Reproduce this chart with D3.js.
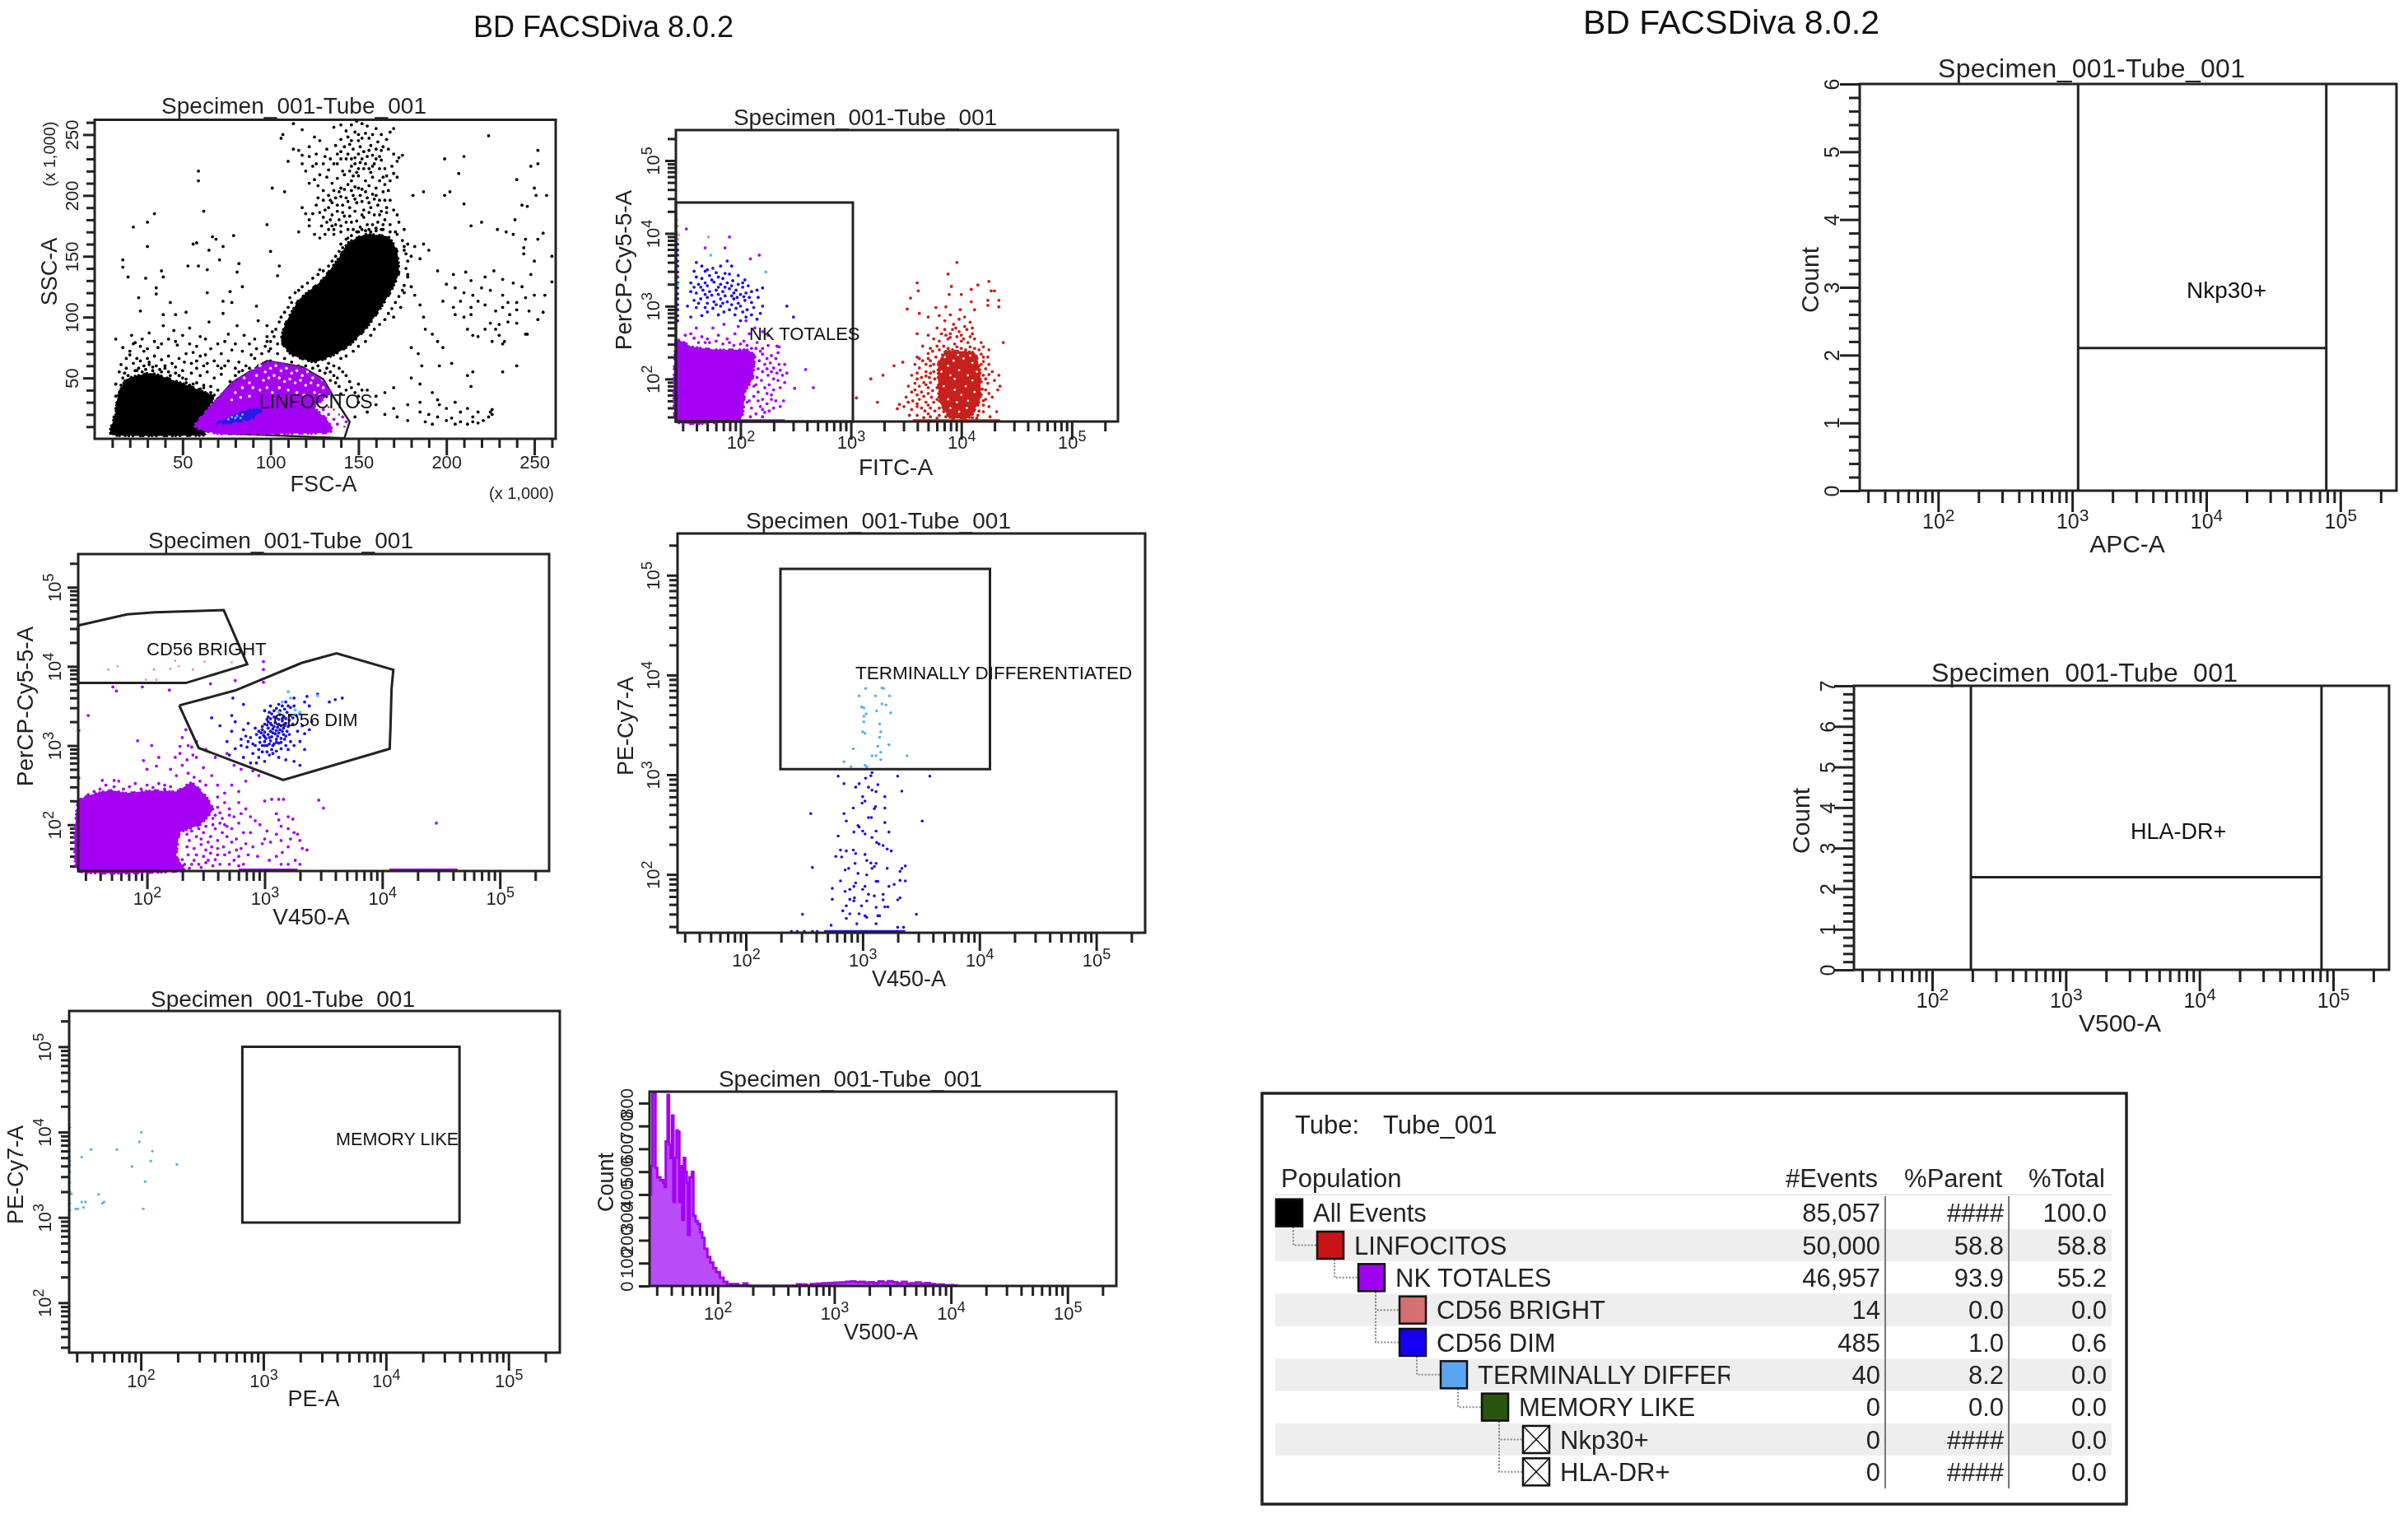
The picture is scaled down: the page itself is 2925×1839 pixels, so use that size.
<!DOCTYPE html>
<html>
<head>
<meta charset="utf-8">
<script src="https://cdn.jsdelivr.net/npm/d3@7"></script>
<style>
body { margin: 0; background: #fff; }
svg { display: block; filter: blur(0.5px); }
text { font-family: "Liberation Sans", Arial, sans-serif; fill: #222; }
</style>
</head>
<body>
<div id="visualization"></div>
<script>
// axis ticks
const logTicks = [30,40,50,60,70,80,90,100,200,300,400,500,600,700,800,900,1000,2000,3000,4000,5000,6000,7000,8000,9000,10000,20000,30000,40000,50000,60000,70000,80000,90000,100000,200000];
const decades = [100,1000,10000,100000];
const linTicks = d3.range(10,261,10);
const linLabels = [50,100,150,200,250];

// plot 1: FSC-A / SSC-A, both in thousands
const p1LeftBlob = [[10,3],[12,20],[13,34],[18,49],[32,54],[47,47],[63,38],[68,33],[57,11],[63,3]];
const p1MainBlob = [[116,114],[129,130],[139,149],[144,161],[154,168],[167,166],[172,154],[173,136],[168,120],[161,104],[154,90],[145,77],[136,69],[125,63],[112,69],[106,80],[108,93]];
const p1Scatter = [[59,220],[59,212],[62,187],[34,185],[30,178],[22,174],[101,206],[108,203],[98,176],[67,166],[69,164],[79,167],[58,161],[56,160],[65,155],[73,158],[100,154],[30,158],[16,147],[16,141],[19,133],[29,132],[38,138],[39,133],[53,142],[59,142],[64,139],[71,147],[82,144],[81,137],[105,142],[104,134],[25,116],[26,105],[35,124],[35,119],[43,112],[39,102],[46,102],[52,104],[64,120],[73,113],[77,121],[78,112],[84,125],[92,109],[93,97],[98,93],[12,82],[21,85],[23,79],[27,82],[31,87],[39,93],[45,89],[54,91],[56,71],[63,82],[65,96],[73,103],[81,93],[85,85],[91,82],[74,80],[20,69],[28,72],[36,75],[47,77],[63,69],[78,73],[89,69],[98,80],[15,61],[22,62],[31,63],[40,60],[51,63],[58,58],[70,60],[82,63],[91,66],
[14,55],[18,58],[24,56],[28,60],[33,59],[37,57],[42,55],[46,59],[50,56],[55,54],[60,52],[64,55],[68,50],[72,53],[77,47],[80,52],[84,56],[88,58],[93,60],[96,62],[100,64],[12,45],[15,40],[52,49],[56,45],[62,44],[66,43],[70,40],[75,38],
[106,247],[107,250],[113,259],[118,254],[125,248],[128,245],[136,256],[140,258],[143,253],[146,258],[149,261],[152,259],[155,257],[160,255],[163,250],[168,252],[170,255],[113,238],[116,237],[118,233],[122,240],[126,234],[131,232],[137,241],[140,236],[145,242],[147,238],[150,245],[151,240],[153,236],[157,241],[161,244],[163,237],[167,238],[170,234],[173,231],[172,228],[175,233],[110,228],[118,226],[120,220],[124,224],[128,217],[133,221],[138,226],[141,220],[143,230],[146,224],[148,231],[149,219],[151,227],[153,222],[155,232],[157,219],[159,226],[163,229],[165,222],[169,224],[122,210],[125,213],[127,208],[130,204],[132,215],[135,210],[138,214],[140,206],[142,217],[144,209],[146,212],[148,207],[150,216],[152,205],[154,212],[156,208],[158,215],[160,206],[162,212],[165,209],[167,204],[127,198],[130,196],[133,200],[135,194],[137,198],[139,203],[141,192],[143,198],[145,190],[147,200],[149,194],[151,200],[153,188],[155,198],[157,190],[159,197],[161,192],[163,187],[165,196],[118,190],[120,185],[128,186],[130,182],[132,178],[133,190],[135,184],[137,176],[139,180],[141,186],[143,178],[145,183],[147,172],[149,179],[151,174],[153,182],[155,176],[157,170],[159,184],[161,178],[163,172],[165,180],[168,176],[171,170],[173,178],[176,172],[116,170],[122,175],[125,168],[128,165],[133,172],[136,168],[140,170],[144,165],[176,155],[178,160],[180,150],[182,158],[185,148],[187,160],[190,155],[178,135],[180,125],[182,118],[185,110],[187,100],[176,120],[174,108],[170,100],
[199,230],[210,232],[224,249],[252,237],[248,224],[252,226],[207,218],[199,200],[202,203],[210,193],[181,200],[187,203],[240,213],[250,206],[251,200],[257,200],[243,192],[246,191],[220,178],[214,175],[239,180],[229,172],[234,170],[238,168],[245,164],[252,164],[255,169],[244,157],[244,152],[250,146],[260,129],[260,150],[195,138],[204,135],[211,137],[214,130],[222,133],[227,138],[232,131],[238,128],[243,125],[248,135],[200,127],[205,124],[210,120],[215,118],[220,124],[225,122],[232,118],[235,112],[240,112],[245,116],[250,118],[256,118],[198,113],[204,108],[208,113],[214,108],[218,113],[222,110],[228,105],[232,108],[236,102],[240,106],[247,105],[205,102],[210,100],[214,102],[225,95],[230,94],[235,96],[240,95],[252,98],[255,104],[212,90],[215,85],[218,84],[222,90],[228,90],[230,85],[245,86],[246,86],[188,90],[192,86],[195,80],[198,75],[180,75],[184,70],[186,60],[196,60],[203,62],[226,80],[232,78],[233,80],[240,60],[232,55],[215,55],[212,52],[214,43],
[150,45],[155,40],[160,35],[165,38],[170,42],[180,50],[185,45],[192,38],[195,32],[185,30],[178,28],[170,25],[165,20],[160,28],[155,22],[150,30],[148,18],[172,18],[178,15],[185,22],[190,20],[195,18],[200,15],[203,17],[205,12],[208,14],[212,12],[215,14],[218,13],[221,15],[224,18],[225,22],[226,20],[226,24],[196,28],[200,25],[205,30],[208,22],[212,25],[215,18],[218,22],[188,14],[192,12]];
const p1Grain = [[104,78],[102,84],[103,90],[105,96],[106,100],[108,104],[110,108],[112,112],[111,116],[114,120],[116,122],[118,125],[121,128],[124,132],[127,135],[130,138],[128,139],[133,142],[135,146],[137,150],[139,154],[141,157],[140,160],[143,164],[146,167],[149,170],[152,172],[156,172],[160,173],[164,172],[168,170],[172,168],[175,163],[176,158],[177,152],[178,146],[177,140],[178,133],[176,126],[175,122],[173,117],[171,112],[169,107],[167,103],[165,98],[162,94],[159,90],[157,85],[154,80],[150,76],[147,72],[143,68],[140,66],
[100,74],[104,70],[108,66],[112,63],[116,60],[120,60],[124,58],[128,56],[132,58],[134,55],[136,52],[138,50],[137,46],[139,43],[134,48],[131,54],[127,60],[133,62],[136,60],[139,58],[141,55],[143,52],[145,47],[146,42],[148,38],[143,40],[140,37],[150,35],[152,40],[99,72],[97,76],[100,80],[98,84],[101,88],
[11,10],[11,18],[12,25],[13,30],[12,35],[14,38],[15,44],[16,50],[17,54],[19,52],[21,50],[23,56],[25,58],[27,55],[29,57],[31,61],[33,56],[35,60],[38,55],[40,58],[43,52],[46,54],[48,52],[50,50],[52,46],[54,44],[56,42],[58,46],[60,41],[62,42],[64,37],[66,38],[68,36],[70,33],[72,35],[74,36],[72,30],[65,32],
[20,72],[24,66],[26,64],[30,66],[34,68],[38,65],[42,68],[44,62],[48,66],[52,70],[55,62],[58,64],[60,68],[62,60],[64,62],[68,64],[72,58],[74,60],[76,64],[80,58],[82,55],[86,60],[90,55],[94,56],[22,78],[26,76],[30,74],[34,80],[38,78],[42,82],[46,80],[50,85],[54,78],[58,76],[60,84],[66,74],[70,78],[72,70],[76,86],[80,78],[84,72],[88,78],[92,74],[95,70],[16,75],[18,66],
[131,188],[134,180],[136,172],[138,187],[140,175],[142,183],[144,172],[146,178],[148,187],[150,170],[152,184],[154,171],[156,186],[158,176],[160,171],[162,184],[164,176],[166,186],[134,196],[136,204],[138,192],[140,199],[142,205],[144,195],[146,204],[148,197],[150,206],[152,195],[154,203],[156,194],[158,201],[160,200],[162,196],[164,203],[166,190],[168,196],[170,188],[172,184],[126,192],[124,185],[122,180],[129,175],[131,168],[135,175],[140,246],[142,240],[144,248],[146,245],[148,252],[150,250],[152,247],[154,251],[156,247],[158,250],[160,238],[162,232],[164,240],[166,246],[144,234],[146,230],[148,226],[150,234],[152,230],[154,226],[156,237],[158,233],[160,230],[162,222],[164,215],[166,216],[168,212],[170,218],[172,215],[140,230],[138,234],[136,226],[134,230],[132,238],[130,226],[126,226],[122,232],[156,222],[158,224],[150,222],[147,216],[145,220]];
const p1Gate = [[57,11],[78,46],[98,64],[118,59],[130,49],[136,34],[145,14],[142,0.5],[72,4.6]];
const p1Purple = [[57,11],[78,45],[98,63],[118,58],[129,48],[134,38],[125,26],[132,16],[133,5],[72,4]];
const p1Blue = [[70,13],[78,18],[88,24],[95,24],[90,17],[78,13]];
const p1Cyan = [[78,18],[81,19],[84,20],[80,17],[76,16],[83,17]];
const p1White = [[90,58],[94,60],[97,55],[100,58],[103,60],[106,56],[109,58],[112,54],[115,56],[118,52],[121,55],[124,50],[92,52],[96,48],[99,50],[102,52],[105,50],[108,47],[111,49],[114,46],[117,48],[120,44],[123,46],[127,44],[130,42],[85,50],[88,46],[84,42],[90,42],[94,40],[98,42],[101,38],[105,42],[110,40],[115,38],[119,36],[125,38],[128,36],[80,38],[83,34],[78,32],[88,35]];
const p1PurpleDots = [[125,22],[128,18],[130,24],[133,20],[136,16],[131,13],[134,10],[138,12],[141,18],[143,14],[128,10],[126,14]];
const p1RedDots = [[139,20],[136,24],[133,26],[142,10]];

// the log plots below hold log10 of the channel value
// plot 2: FITC-A / PerCP-Cy5-5-A
const p2Gate = [[1.415,1.415],[1.415,4.424],[3.018,4.424],[3.018,1.415]];
const p2PurpleBlock = [[1.415,1.415],[1.415,2.516],[1.562,2.44],[1.794,2.4],[2.06,2.4],[2.127,2.308],[2.11,2.007],[2.04,1.818],[1.994,1.441]];
const p2Purple = [[2.13,2.3],[2.17,2.25],[2.2,2.34],[2.24,2.28],[2.27,2.22],[2.3,2.15],[2.33,2.08],[2.36,2.12],[2.38,2.05],[2.3,2],[2.25,2.05],[2.2,2.1],[2.15,2.02],[2.19,1.98],[2.26,1.92],[2.3,1.85],[2.22,1.88],[2.16,1.82],[2.12,1.76],[2.2,1.72],[2.24,1.66],[2.18,1.62],[2.1,1.6],[2.14,1.52],[2.2,1.48],[2.26,1.56],[2.09,1.48],[2.06,1.68],[2.14,1.92],[2.1,2.12],[2.12,2.2],[2.36,1.62],[2.35,2.2],[1.7,2.55],[1.8,2.6],[1.9,2.5],[1.95,2.62],[2.03,2.52],[2.08,2.62],[2.15,2.5],[2.2,2.42],[2.25,2.46],[1.6,2.7],[1.65,2.58],[1.75,2.7],[1.85,2.75],[1.98,2.72],[2.05,2.8],[2.13,2.7],[2.2,2.65],[2.25,2.6],[2.33,2.45],[1.55,2.62],[1.72,2.5],[1.88,2.55],[2.59,2.13],[2.49,1.87],[2.66,1.88],[2.39,1.7],[2.35,2.44],[1.51,4.06],[1.9,3.95],[1.86,3.8],[1.68,3.8],[2.17,3.7],[2.09,3.65],
[2.14,2.42],[2.18,2.38],[2.22,2.2],[2.28,2.32],[2.32,2.28],[2.34,1.98],[2.28,1.78],[2.24,1.8],[2.2,1.58],[2.28,1.72],[2.32,1.7],[2.3,1.6],[2.22,1.54],[2.16,1.7],[2.08,1.7],[2.12,1.9],[2.24,2.14],[2.28,2.1],[2.16,2.14],[2.36,1.88],[2.4,1.95],[2.42,2.08],[2.4,2.2],[2.34,2.36],[1.5,2.6],[1.58,2.56],[1.62,2.5],[1.68,2.5],[1.78,2.52],[1.84,2.48],[1.94,2.46],[2,2.48],[2.06,2.46],[2.1,2.42]];
const p2Blue = [[1.6,3.6],[1.65,3.55],[1.7,3.5],[1.75,3.52],[1.82,3.55],[1.88,3.62],[1.92,3.55],[1.86,3.45],[1.8,3.4],[1.72,3.42],[1.65,3.38],[1.6,3.4],[1.55,3.32],[1.62,3.3],[1.7,3.28],[1.76,3.33],[1.82,3.3],[1.88,3.32],[1.93,3.35],[1.98,3.42],[2.04,3.36],[2.07,3.28],[2.02,3.26],[1.96,3.22],[1.55,3.2],[1.6,3.18],[1.66,3.22],[1.72,3.2],[1.78,3.22],[1.84,3.2],[1.9,3.24],[1.94,3.18],[2,3.16],[2.05,3.18],[2.1,3.2],[2.15,3.22],[2.2,3.25],[1.58,3.08],[1.64,3.1],[1.7,3.12],[1.76,3.06],[1.82,3.1],[1.88,3.06],[1.94,3.1],[1.98,3.04],[2.04,3.08],[2.1,3.05],[2.16,3.12],[1.52,3],[1.6,2.98],[1.68,2.98],[1.75,2.97],[1.82,3],[1.9,2.95],[1.96,2.97],[2.06,2.95],[2.12,2.98],[2.2,3],[1.55,2.85],[1.65,2.87],[1.8,2.88],[1.95,2.88],[2.05,2.85],[2.1,2.88],[2.15,2.82],[2.18,2.9],[2,2.8],[2.42,3],[2.48,2.85],[1.43,3.85],[1.43,3.77],[1.43,3.7],[1.43,3.62],[1.43,3.55],[1.43,3.47],[1.43,3.4],[1.43,3.32],[1.43,3.25],[1.43,3.17],[1.43,3.1],[1.43,3.02],[1.43,2.95],[1.43,2.87],[1.43,2.8],
[1.58,3.48],[1.68,3.48],[1.78,3.46],[1.84,3.38],[1.74,3.36],[1.68,3.32],[1.9,3.44],[1.58,3.26],[1.64,3.26],[1.8,3.26],[1.86,3.26],[1.92,3.28],[1.98,3.3],[2.02,3.32],[1.68,3.16],[1.74,3.15],[1.8,3.16],[1.86,3.14],[1.92,3.14],[1.97,3.12],[2.03,3.13],[2.08,3.12],[1.62,3.04],[1.7,3.04],[1.78,3.02],[1.84,3.04],[1.92,3.02],[2,3],[1.7,2.92],[1.85,2.92],[2.02,2.92]];
const p2Cyan = [[1.73,3.7],[2.23,3.47],[1.43,3.3]];
const p2Pink = [[1.71,3.95],[1.42,4],[1.43,4.1],[1.42,4.18],[1.44,3.98],[1.43,3.92]];
const p2RedBlock = [[3.79,2.2],[3.86,2.38],[4.12,2.36],[4.17,2.1],[4.17,1.72],[4.07,1.47],[3.9,1.47],[3.8,1.7]];
const p2Red = [[3.96,3.6],[3.88,3.44],[3.6,3.32],[4.25,3.34],[3.61,3.21],[3.91,3.27],[4.15,3.29],[4.09,3.23],[4.27,3.21],[4.3,3.21],[3.54,3.11],[3.89,3.16],[4,3.16],[4.24,3.08],[4.34,3.08],[4.09,3.06],[3.51,2.96],[3.77,2.98],[3.86,2.99],[3.99,2.95],[4.12,2.95],[4.24,3.01],[4.34,2.99],[3.62,2.9],[3.7,2.85],[3.8,2.87],[3.85,2.8],[3.9,2.88],[3.93,2.75],[3.98,2.82],[4.03,2.85],[4.08,2.78],[3.78,2.7],[3.85,2.68],[3.9,2.62],[3.95,2.7],[4,2.6],[4.05,2.68],[4.1,2.62],[3.6,2.62],[3.7,2.6],[3.75,2.55],[3.8,2.52],[3.88,2.55],[3.94,2.48],[4,2.52],[4.06,2.5],[4.12,2.55],[4.18,2.5],[4.25,2.4],[4.38,2.5],[3.65,2.45],[3.72,2.42],[3.78,2.45],[3.6,2.3],[3.65,2.25],[3.7,2.28],[3.62,2.15],[3.68,2.1],[3.72,2.18],[3.55,2.05],[3.6,2],[3.66,1.95],[3.71,2.02],[3.52,1.9],[3.58,1.85],[3.64,1.82],[3.7,1.88],[3.5,1.75],[3.56,1.7],[3.62,1.72],[3.68,1.68],[3.73,1.75],[3.48,1.62],[3.55,1.58],[3.6,1.62],[3.67,1.56],[3.72,1.6],[3.53,1.5],[3.6,1.5],[3.66,1.47],[3.72,1.48],[4.2,2.3],[4.25,2.2],[4.28,2.1],[4.22,2],[4.3,1.98],[4.35,1.9],[4.22,1.85],[4.28,1.75],[4.2,1.7],[4.25,1.62],[4.2,1.55],[4.15,1.5],[4.1,1.47],[4.32,1.55],[4.34,2.05],[4.33,1.85],[3.18,2],[3.29,2.05],[3.24,1.68],[3.05,1.74],[3.39,2.18],[3.47,2.23],[3.44,1.65],[3.52,1.68],[3.42,1.59],
[3.8,2.4],[3.84,2.45],[3.88,2.42],[3.92,2.4],[3.96,2.44],[4,2.42],[4.04,2.4],[4.08,2.44],[4.12,2.42],[4.16,2.4],[4.2,2.44],[3.74,2.38],[3.7,2.35],[3.86,2.6],[3.9,2.57],[3.96,2.58],[4.02,2.55],[4.08,2.58],[3.82,2.62],[3.92,2.68],[3.98,2.65],[4.03,2.72],[4.1,2.7],[3.58,2.2],[3.62,2.28],[3.68,2.2],[3.72,2.25],[3.75,2.2],[3.77,2.3],[3.6,2.08],[3.64,2.02],[3.68,2.04],[3.72,2.08],[3.75,2.1],[3.58,1.94],[3.62,1.9],[3.68,1.92],[3.72,1.95],[3.76,2],[3.55,1.82],[3.6,1.78],[3.66,1.76],[3.7,1.8],[3.74,1.84],[3.78,1.88],[3.52,1.68],[3.6,1.66],[3.64,1.6],[3.7,1.64],[3.75,1.68],[3.78,1.72],[3.8,1.6],[3.76,1.56],[3.8,1.5],[3.84,1.55],[3.86,1.48],[3.7,1.52],[3.78,1.46],[4.18,2.34],[4.2,2.24],[4.24,2.3],[4.22,2.14],[4.18,2.2],[4.2,2.05],[4.25,2.06],[4.18,1.96],[4.24,1.94],[4.19,1.86],[4.25,1.8],[4.18,1.78],[4.22,1.72],[4.15,1.64],[4.2,1.64],[4.12,1.58],[4.16,1.56],[4.1,1.52],[4.06,1.5],[4.02,1.47],[4.14,1.46],[4.26,1.48],[3.88,1.5],[3.92,1.46],[3.94,1.55],[3.88,1.6],[4.04,1.44]];
const p2RedWhite = [[3.85,2.3],[3.93,2.25],[4.02,2.28],[4.1,2.22],[3.82,2.1],[3.9,2.05],[3.98,2.12],[4.06,2.05],[4.14,2.1],[3.84,1.9],[3.94,1.85],[4.04,1.9],[4.12,1.82],[3.88,1.72],[3.96,1.68],[4.06,1.7],[3.98,1.55],[4.05,1.6],[3.88,2.18],[3.97,2.33],[4.08,2.32],[3.94,2],[4.1,1.98],[4,1.78],[3.9,1.6]];

// plot 3: V450-A / PerCP-Cy5-5-A
const p3Bright = [[1.415,4.517],[1.83,4.656],[2.065,4.684],[2.455,4.701],[2.652,4.711],[2.852,4.026],[2.33,3.79],[1.415,3.79],[1.415,4.517]];
const p3Dim = [[2.274,3.506],[2.752,3.697],[3.314,4.043],[3.611,4.164],[4.094,3.957],[4.079,3.714],[4.07,3.229],[4.063,2.959],[3.158,2.565],[2.439,2.97],[2.274,3.506]];
const p3PurpleBlock = [[1.415,1.415],[1.415,2.295],[1.69,2.433],[1.815,2.398],[2.065,2.433],[2.25,2.42],[2.38,2.53],[2.5,2.36],[2.56,2.19],[2.45,2],[2.28,1.9],[2.25,1.6],[2.3,1.415]];
const p3Purple = [[2.32,1.5],[2.36,1.45],[2.4,1.55],[2.44,1.5],[2.48,1.6],[2.52,1.55],[2.56,1.48],[2.35,1.62],[2.4,1.7],[2.46,1.75],[2.5,1.68],[2.55,1.72],[2.6,1.62],[2.62,1.5],[2.36,1.8],[2.42,1.85],[2.48,1.9],[2.54,1.85],[2.6,1.8],[2.65,1.72],[2.58,1.95],[2.64,1.9],[2.68,1.85],[2.62,2.02],[2.56,2.08],[2.66,2],[2.7,2.12],[2.62,2.15],[2.66,2.28],[2.7,2.2],[2.74,2.1],[2.72,1.95],[2.76,1.82],[2.7,1.65],[2.74,1.55],[2.8,1.7],[2.82,1.5],[2.86,1.62],[2.88,1.9],[2.92,2.05],[2.84,2.2],[2.78,2.28],[2.2,2.7],[2.25,2.62],[2.3,2.75],[2.35,2.65],[2.4,2.6],[2.45,2.55],[2.5,2.5],[2.28,2.9],[2.24,2.85],[2.34,2.82],[2.42,2.85],[2.48,2.72],[2.55,2.62],[2.6,2.5],[2.66,2.4],[2.72,2.5],[2.78,2.42],[2.84,2.55],[2.35,3],[2.42,3.05],[2.5,2.95],[2.58,2.85],[2.68,2.9],[2.74,2.75],[2.8,2.7],[2.9,2.68],[2.95,2.62],[2.04,3],[2.1,2.85],[2,2.7],[2.15,2.5],[2.3,3.1],[2.38,2.98],[3,2.3],[3.06,2.32],[3.12,2.32],[3.16,2.32],[3.1,2.14],[3.12,2.06],[3.2,2.1],[3.24,2.07],[3.14,1.98],[3.2,1.95],[3.25,1.9],[3.28,1.88],[3.3,1.8],[3.22,1.82],[3.14,1.8],[3.05,1.78],[2.98,1.76],[3,1.82],[3.32,1.7],[3.36,1.68],[3.2,1.72],[3.15,1.65],[3.1,1.6],[3.14,1.5],[3.2,1.5],[3.26,1.55],[3.3,1.5],[3.04,1.55],[2.94,1.6],[3.02,1.92],[2.96,2],[3.1,1.88],[3.46,2.31],[3.5,2.21],[4.46,2.02],[1.5,3.38],[1.42,3.19],[1.92,3.06],[1.71,3.74],[1.74,3.69],[2.19,3.7],[1.96,3.74],[2.54,3.78],[2.75,3.82],[2.99,4.06],[2.99,3.96],[2.99,3.8],[2.33,3.2],[2.28,2.99],[2.39,2.88],[1.97,2.81],[2.08,2.74],[1.42,2.59],
[2.3,1.56],[2.34,1.72],[2.38,1.5],[2.42,1.62],[2.46,1.46],[2.5,1.52],[2.54,1.64],[2.58,1.56],[2.6,1.7],[2.38,1.92],[2.44,1.95],[2.5,1.98],[2.56,2],[2.34,1.88],[2.52,1.78],[2.46,1.82],[2.58,2.12],[2.6,2.22],[2.6,2.35],[2.64,2.08],[2.68,1.98],[2.72,1.78],[2.66,1.62],[2.7,1.5],[2.76,1.68],[2.78,1.6],[2.78,1.48],[2.84,1.76],[2.82,1.9],[2.78,2.02],[2.8,2.14],[2.88,2.1],[2.9,1.72],[1.5,2.38],[1.55,2.42],[1.6,2.45],[1.65,2.5],[1.72,2.48],[1.76,2.55],[1.8,2.45],[1.85,2.48],[1.9,2.52],[1.95,2.45],[2,2.5],[2.05,2.47],[2.1,2.52],[2.15,2.45],[2.2,2.48],[1.62,2.56],[1.72,2.56]];
const p3Pink = [[1.67,3.96],[1.75,4],[2.06,3.96],[2.2,3.97],[2.24,4.07],[2.27,4],[2.49,4.06],[2.39,3.96],[2.72,4.05],[1.99,3.83],[2.08,3.83]];
const p3Blue = [[2.98,3],[3,3.05],[3.02,3],[3.05,3.06],[3.08,3.02],[3.1,3.08],[3.12,3.03],[2.96,3.1],[2.99,3.13],[3.01,3.09],[3.03,3.14],[3.06,3.11],[3.09,3.15],[3.11,3.12],[3.14,3.09],[3.16,3.14],[2.95,3.18],[2.98,3.2],[3,3.17],[3.03,3.22],[3.05,3.18],[3.07,3.21],[3.1,3.19],[3.13,3.2],[3.16,3.22],[3.19,3.18],[3,3.27],[3.03,3.3],[3.06,3.26],[3.09,3.29],[3.12,3.27],[3.15,3.31],[3.18,3.28],[3.21,3.32],[3.03,3.36],[3.06,3.4],[3.1,3.35],[3.13,3.39],[3.16,3.36],[3.19,3.42],[3.22,3.38],[3,3.44],[3.05,3.5],[3.1,3.47],[3.15,3.5],[3.18,3.55],[3.22,3.48],[2.75,3.3],[2.72,3.38],[2.82,3.2],[2.88,3.1],[2.8,3],[2.75,2.96],[2.85,2.98],[2.9,2.9],[2.95,2.85],[2.82,2.85],[2.88,2.78],[2.93,2.78],[3,2.8],[3.04,2.88],[3.07,2.9],[3.12,2.85],[3.2,2.95],[3.25,3],[3.3,3.05],[3.34,2.95],[3.18,2.82],[3.25,2.8],[3.3,2.75],[3.38,3.2],[3.34,3.15],[3.3,3.4],[3.34,3.55],[3.38,3.5],[3.36,3.62],[3.45,3.65],[3.55,3.55],[3.66,3.6],[3.6,3.58],[3.25,3.6],[2.82,3.52],[2.73,3.6],[2.55,3.35],[2.62,3.25],[2.72,3.18],[2.8,3.08],
[2.96,3.04],[3,3],[3.04,3.02],[3.07,3],[3.1,3.04],[3.14,3.04],[3.17,3.08],[2.93,3.14],[2.97,3.16],[3,3.11],[3.04,3.1],[3.07,3.16],[3.12,3.16],[3.15,3.18],[3.18,3.12],[3.21,3.14],[2.98,3.24],[3.02,3.26],[3.05,3.28],[3.08,3.24],[3.11,3.23],[3.14,3.25],[3.17,3.25],[3.2,3.24],[3.24,3.27],[3.02,3.33],[3.05,3.34],[3.08,3.36],[3.12,3.33],[3.15,3.34],[3.18,3.34],[3.24,3.35],[3.27,3.38],[3.04,3.42],[3.08,3.44],[3.13,3.44],[3.17,3.46],[3.2,3.5],[3.25,3.5],[3.12,3.52],[2.9,3.02],[2.92,3],[2.95,2.95],[2.98,2.92],[3.02,2.92],[3.06,2.95],[3.1,2.93],[3.14,2.96],[3.18,3],[3.22,3.05],[2.86,3.05],[2.84,3.12],[2.92,3.22],[2.86,3.28],[2.7,2.88],[2.68,3.05],[3.28,3.18],[3.32,3.25],[3.4,3.3]];
const p3Cyan = [[3.2,3.68],[3.22,3.6],[3.3,3.42],[3.26,3.45],[3.15,3.55],[3.45,3.63],[3.12,3.42]];

// plot 4: V450-A / PE-Cy7-A
const p4Gate = [[2.296,5.063],[4.09,5.063],[4.09,3.056],[2.296,3.056]];
const p4Light = [[3.026,3.865],[3.165,3.87],[3.18,3.865],[2.97,3.79],[3.11,3.79],[3.23,3.79],[2.99,3.68],[3.01,3.67],[3.03,3.61],[3.01,3.585],[3.165,3.71],[3.2,3.7],[3.24,3.62],[3.12,3.64],[3.01,3.53],[3.145,3.51],[3,3.43],[3.02,3.415],[3.155,3.43],[3.145,3.375],[2.92,3.26],[3.13,3.285],[3.225,3.3],[3.155,3.225],[3.08,3.19],[3.115,3.19],[3.38,3.19],[3.155,3.15],[2.84,3.13],[2.9,3.08],[3.02,3.095],[3.035,3.08]];
const p4Blue = [[3.08,3.02],[3.07,2.99],[3.025,2.965],[2.79,2.985],[3.3,2.985],[3.575,2.985],[2.84,2.91],[2.94,2.875],[2.97,2.91],[3.05,2.875],[3.13,2.9],[3.08,2.845],[3.115,2.83],[3.335,2.835],[3,2.78],[3.19,2.78],[3.02,2.735],[2.995,2.715],[3.11,2.68],[3.1,2.66],[2.92,2.665],[3.19,2.665],[2.555,2.61],[2.84,2.61],[3.05,2.57],[3.075,2.57],[2.86,2.535],[3.19,2.52],[3.51,2.535],[2.96,2.49],[2.97,2.475],[2.925,2.425],[3,2.435],[3.02,2.405],[3.115,2.435],[3.225,2.425],[3.08,2.37],[2.79,2.385],[3.12,2.32],[3.14,2.305],[3.175,2.29],[3.21,2.255],[2.92,2.245],[2.81,2.245],[2.86,2.235],[3.245,2.235],[2.94,2.21],[2.77,2.18],[2.82,2.175],[3.02,2.2],[3.035,2.14],[3.07,2.115],[3.115,2.11],[3.1,2.08],[3.08,2.06],[2.935,2.11],[2.88,2.06],[2.85,2.045],[3.21,2.06],[2.57,2.07],[3.32,2.03],[3.365,2.085],[3.335,2.06],[2.96,2.01],[3.035,1.995],[3.115,1.93],[3.13,1.93],[3.365,1.935],[3.32,1.94],[3.27,1.9],[3.225,1.88],[2.81,1.935],[2.94,1.915],[2.925,1.88],[3.02,1.88],[2.74,1.86],[2.85,1.83],[2.89,1.85],[3,1.85],[3.05,1.8],[3.1,1.785],[3.175,1.8],[3.32,1.765],[3.3,1.745],[2.89,1.75],[2.93,1.765],[3.035,1.735],[2.74,1.75],[3.175,1.745],[2.86,1.685],[2.925,1.735],[2.99,1.685],[3.19,1.675],[3.215,1.675],[3.115,1.67],[2.83,1.635],[2.89,1.605],[2.97,1.605],[3.02,1.585],[3.035,1.57],[3.13,1.585],[3.145,1.585],[2.86,1.56],[2.485,1.6],[3.46,1.6],[2.73,1.49],[2.95,1.505],[3.115,1.505],[2.39,1.43],[2.44,1.43],[2.5,1.43],[2.57,1.43],[2.61,1.43],[3.3,1.47],[3.35,1.47]];

// plot 5: PE-A / PE-Cy7-A
const p5Gate = [[2.828,5],[4.6,5],[4.6,2.94],[2.828,2.94]];
const p5Light = [[1.42,4.055],[1.42,3.86],[1.42,3.78],[1.42,3.71],[1.42,3.66],[1.42,3.61],[1.42,3.53],[1.42,3.41],[1.42,3.3],[1.42,3.165],[1.42,3.08],[1.594,3.795],[1.517,3.705],[1.804,3.795],[1.989,3.885],[2.004,3.995],[2.094,3.775],[2.081,3.66],[1.927,3.595],[2.294,3.62],[2.035,3.42],[2.02,3.1],[1.656,3.27],[1.433,3.275],[1.517,3.18],[1.548,3.18],[1.686,3.165],[1.7,3.18],[1.532,3.115],[1.486,3.1],[1.47,3.1]];

// plot 6: V500-A histogram, [log10 channel, count]
const p6Hist = [[1.415,400],[1.428,525],[1.44,840],[1.456,842],[1.466,517],[1.481,475],[1.507,463],[1.532,451],[1.545,433],[1.554,632],[1.57,836],[1.582,619],[1.595,560],[1.608,746],[1.62,367],[1.633,560],[1.646,680],[1.658,674],[1.671,367],[1.683,524],[1.696,289],[1.709,560],[1.721,499],[1.734,451],[1.746,223],[1.759,475],[1.778,499],[1.791,307],[1.81,283],[1.829,271],[1.848,235],[1.867,211],[1.886,163],[1.911,127],[1.936,103],[1.961,78],[1.987,60],[2.018,36],[2.05,18],[2.081,8],[2.128,8],[2.175,2],[2.222,11],[2.254,1],[2.28,0],[2.66,0],[2.68,7],[2.72,6],[2.76,3],[2.8,8],[2.85,10],[2.9,12],[2.95,13],[3,14],[3.05,15],[3.1,18],[3.14,20],[3.18,16],[3.22,18],[3.26,14],[3.3,16],[3.34,13],[3.38,20],[3.42,14],[3.46,21],[3.5,16],[3.54,12],[3.58,18],[3.62,11],[3.66,12],[3.7,15],[3.74,10],[3.78,13],[3.82,8],[3.86,5],[3.9,6],[3.94,3],[3.98,4],[4.02,2],[4.05,0]];

// plots 7 and 8: empty histograms with a range gate
const p7Gate = [3.044,4.895,2.105];
const p8Gate = [2.29,4.913,2.285];

// population table
const rowNames = ["All Events","LINFOCITOS","NK TOTALES","CD56 BRIGHT","CD56 DIM","TERMINALLY DIFFERENTIATED","MEMORY LIKE","Nkp30+","HLA-DR+"];
const rowEvents = ["85,057","50,000","46,957","14","485","40","0","0","0"];
const rowParent = ["####","58.8","93.9","0.0","1.0","8.2","0.0","####","####"];
const rowTotal = ["100.0","58.8","55.2","0.0","0.6","0.0","0.0","0.0","0.0"];
const rowLevel = [0,1,2,3,3,4,5,6,6];
const rowUp = [-1,0,1,2,2,4,5,6,6];
const rowColor = ["#000000","#c81414","#a000f0","#d4706e","#1400f0","#5aa5f0","#2a5510","#ffffff","#ffffff"];

const PURPLE = "#a400f4", BLUE = "#1a10e0", RED = "#c8201c", CYAN = "#46c8e8", LIGHT = "#5ab4e6", PINK = "#e8908c", INK = "#222";

const width = window.innerWidth;
const height = window.innerHeight;

const svg = d3.select("#visualization")
    .append("svg")
    .attr("width", width)
    .attr("height", height);

svg.append("text").attr("x", 575).attr("y", 45).attr("font-size", 36).style("fill", "#111").text("BD FACSDiva 8.0.2");
svg.append("text").attr("x", 1923).attr("y", 41).attr("font-size", 41).style("fill", "#111").text("BD FACSDiva 8.0.2");

function makePlot(c) {
    const g = svg.append("g");
    let x, y, px, py;
    if (c.xLinear) {
        x = d3.scaleLinear().domain([0, 262.144]).range([c.x0, c.x1]);
        px = (v) => x(v);
    } else {
        x = d3.scaleLog().domain([26, 262144]).range([c.x0, c.x1]);
        px = (v) => x(Math.pow(10, v));
    }
    if (c.yMax) {
        y = d3.scaleLinear().domain([0, c.yMax]).range([c.y1, c.y0]);
        py = (v) => y(v);
    } else {
        y = d3.scaleLog().domain([26, 262144]).range([c.y1, c.y0]);
        py = (v) => y(Math.pow(10, v));
    }

    const xTicks = c.xLinear ? linTicks : logTicks;
    const xMajor = c.xLinear ? linLabels : decades;
    const yTicks = c.yTicks || logTicks;
    const yMajor = c.yMajor || decades;
    const fs = c.tickFont || 22;

    const xAxis = g.append("g").attr("transform", `translate(0,${c.y1})`)
        .call(d3.axisBottom(x).tickValues(xTicks).tickFormat("").tickSize(c.xMinor || 12));
    xAxis.select(".domain").remove();
    xAxis.selectAll(".tick line")
        .attr("stroke", INK).attr("stroke-width", 3)
        .attr("y2", (d) => xMajor.includes(d) ? (c.xLong || 22) : (c.xMinor || 12));
    xAxis.selectAll(".tick").filter((d) => xMajor.includes(d)).each(function (d) {
        const t = d3.select(this).select("text")
            .attr("y", c.xTickDy).attr("dy", 0)
            .attr("font-size", fs).attr("font-family", null)
            .attr("text-anchor", "middle").style("fill", INK);
        if (c.xLinear) {
            t.text(d);
        } else {
            t.append("tspan").text("10");
            t.append("tspan").attr("dy", -9).attr("font-size", fs - 4).text(Math.round(Math.log10(d)));
        }
    });

    const yAxis = g.append("g").attr("transform", `translate(${c.x0},0)`)
        .call(d3.axisLeft(y).tickValues(yTicks).tickFormat("").tickSize(c.yMinorLen || 10));
    yAxis.select(".domain").remove();
    yAxis.selectAll(".tick line")
        .attr("stroke", INK).attr("stroke-width", 3)
        .attr("x2", (d) => yMajor.includes(d) ? -(c.yLong || 13) : -(c.yMinorLen || 10));
    yAxis.selectAll(".tick").filter((d) => yMajor.includes(d)).each(function (d) {
        const t = d3.select(this).select("text")
            .attr("x", 0).attr("dy", 0).attr("y", 0)
            .attr("transform", `translate(${c.yTickDx},0) rotate(-90)`)
            .attr("font-size", fs).attr("font-family", null)
            .attr("text-anchor", "middle").style("fill", INK);
        if (c.yTicks || c.xLinear) {
            t.text(d);
        } else {
            t.append("tspan").text("10");
            t.append("tspan").attr("dy", -9).attr("font-size", fs - 4).text(Math.round(Math.log10(d)));
        }
    });

    g.append("text").attr("x", c.titleX).attr("y", c.titleY).attr("font-size", c.titleSize || 28)
        .attr("textLength", c.titleW || null).text("Specimen_001-Tube_001");
    g.append("text").attr("x", c.xLabelX).attr("y", c.xLabelY).attr("font-size", c.labelSize || 27)
        .attr("text-anchor", "middle").text(c.xLabel);
    g.append("text").attr("transform", `translate(${c.yLabelX},${c.yLabelY}) rotate(-90)`)
        .attr("font-size", c.labelSize || 27).attr("text-anchor", "middle").text(c.yLabel);

    const marks = g.append("g");
    g.append("rect")
        .attr("x", c.x0).attr("y", c.y0)
        .attr("width", c.x1 - c.x0).attr("height", c.y1 - c.y0)
        .attr("fill", "none").attr("stroke", INK).attr("stroke-width", 3);

    return {g, marks, x, y, px, py};
}

function blob(p, pts, color) {
    const line = d3.line().x((d) => p.px(d[0])).y((d) => p.py(d[1])).curve(d3.curveCardinalClosed.tension(0.6));
    p.marks.append("path").attr("d", line(pts)).attr("fill", color)
        .attr("stroke", color).attr("stroke-width", 3.5)
        .attr("stroke-dasharray", "0.1 4 0.1 7 0.1 3 0.1 9 0.1 5").attr("stroke-linecap", "round");
}

function dots(p, pts, color, r) {
    p.marks.append("g").selectAll("circle").data(pts).enter().append("circle")
        .attr("cx", (d) => p.px(d[0]))
        .attr("cy", (d) => p.py(d[1]))
        .attr("r", r || 1.9)
        .attr("fill", color);
}

function gate(p, pts, closed, w, parent) {
    const line = d3.line().x((d) => p.px(d[0])).y((d) => p.py(d[1]));
    if (closed) line.curve(d3.curveLinearClosed);
    (parent || p.g).append("path").attr("d", line(pts)).attr("fill", "none")
        .attr("stroke", INK).attr("stroke-width", w || 3);
}

function span(p, a, b, yv, color) {
    p.marks.append("line")
        .attr("x1", p.px(a)).attr("x2", p.px(b))
        .attr("y1", p.py(yv)).attr("y2", p.py(yv))
        .attr("stroke", color).attr("stroke-width", 3);
}

function label(p, s, x, y, size) {
    p.g.append("text").attr("x", x).attr("y", y).attr("font-size", size || 22).style("fill", "#111").text(s);
}

// plot 1
const p1 = makePlot({x0:115, x1:675, y0:145.5, y1:533, xLinear:true, yMax:262.144, yTicks:linTicks, yMajor:linLabels,
    titleX:196, titleY:138, titleW:322, xLabel:"FSC-A", xLabelX:393, xLabelY:597, yLabel:"SSC-A", yLabelX:69, yLabelY:330,
    xTickDy:36, yTickDx:-20, xLong:20, xMinor:11, yLong:14});
p1.g.append("text").attr("x", 594).attr("y", 606).attr("font-size", 20).text("(x 1,000)");
p1.g.append("text").attr("transform", "translate(67,187) rotate(-90)").attr("font-size", 20).attr("text-anchor", "middle").text("(x 1,000)");
blob(p1, p1LeftBlob, "#000");
blob(p1, p1MainBlob, "#000");
dots(p1, p1Scatter, "#000");
dots(p1, p1Grain, "#000");
gate(p1, p1Gate, true, 2.5, p1.marks);
blob(p1, p1Purple, PURPLE);
dots(p1, p1White, "#fff", 1.8);
dots(p1, p1PurpleDots, PURPLE);
dots(p1, p1RedDots, RED, 1.3);
blob(p1, p1Blue, "#2a1ae8");
dots(p1, p1Cyan, CYAN, 1.5);
label(p1, "LINFOCITOS", 315, 496, 23);

// plot 2
const p2 = makePlot({x0:821, x1:1358, y0:158, y1:512,
    titleX:891, titleY:152, titleW:320, xLabel:"FITC-A", xLabelX:1088, xLabelY:577, yLabel:"PerCP-Cy5-5-A", yLabelX:767, yLabelY:328,
    labelSize:28, xTickDy:33, yTickDx:-20});
blob(p2, p2PurpleBlock, PURPLE);
dots(p2, p2Purple, PURPLE);
dots(p2, p2Blue, BLUE);
dots(p2, p2Cyan, CYAN);
dots(p2, p2Pink, PINK);
blob(p2, p2RedBlock, RED);
dots(p2, p2RedWhite, "#fff", 1.4);
dots(p2, p2Red, RED);
span(p2, 3.56, 4.35, 1.43, RED);
span(p2, 2.0, 2.4, 1.43, PURPLE);
gate(p2, p2Gate, true);
label(p2, "NK TOTALES", 910, 413, 22);

// plot 3
const p3 = makePlot({x0:95, x1:667, y0:673, y1:1058,
    titleX:180, titleY:666, titleW:322, xLabel:"V450-A", xLabelX:378, xLabelY:1123, yLabel:"PerCP-Cy5-5-A", yLabelX:40, yLabelY:858,
    labelSize:28, xTickDy:41, yTickDx:-21});
blob(p3, p3PurpleBlock, PURPLE);
dots(p3, p3Purple, PURPLE);
dots(p3, p3Pink, PINK, 1.4);
dots(p3, p3Blue, BLUE);
dots(p3, p3Cyan, CYAN);
span(p3, 2.78, 3.28, 1.43, PURPLE);
span(p3, 4.06, 4.64, 1.43, PURPLE);
gate(p3, p3Bright, false);
gate(p3, p3Dim, false);
label(p3, "CD56 BRIGHT", 178, 796, 22);
label(p3, "CD56 DIM", 332, 882, 22);

// plot 4
const p4 = makePlot({x0:823, x1:1391, y0:648, y1:1133,
    titleX:906, titleY:642, titleW:322, xLabel:"V450-A", xLabelX:1104, xLabelY:1198, yLabel:"PE-Cy7-A", yLabelX:769, yLabelY:882,
    xTickDy:41, yTickDx:-22});
dots(p4, p4Light, LIGHT, 1.8);
dots(p4, p4Blue, BLUE, 1.8);
span(p4, 2.67, 3.365, 1.43, BLUE);
gate(p4, p4Gate, true);
label(p4, "TERMINALLY DIFFERENTIATED", 1039, 825, 22.5);

// plot 5
const p5 = makePlot({x0:84, x1:680, y0:1228, y1:1643,
    titleX:183, titleY:1223, titleW:321, xLabel:"PE-A", xLabelX:381, xLabelY:1708, yLabel:"PE-Cy7-A", yLabelX:28, yLabelY:1427,
    xTickDy:42, yTickDx:-22});
dots(p5, p5Light, LIGHT, 1.7);
gate(p5, p5Gate, true);
label(p5, "MEMORY LIKE", 408, 1391, 21.6);

// plot 6
const p6 = makePlot({x0:789, x1:1356, y0:1326, y1:1562, yMax:850,
    yTicks:[0,100,200,300,400,500,600,700,800], yMajor:[0,100,200,300,400,500,600,700,800], yMinorLen:13,
    titleX:873, titleY:1320, titleW:320, xLabel:"V500-A", xLabelX:1070, xLabelY:1627, yLabel:"Count", yLabelX:745, yLabelY:1436,
    xTickDy:41, yTickDx:-20});
const histArea = d3.area().x((d) => p6.px(d[0])).y0(p6.y(0)).y1((d) => p6.py(d[1])).curve(d3.curveStepAfter);
const histLine = d3.line().x((d) => p6.px(d[0])).y((d) => p6.py(d[1])).curve(d3.curveStepAfter);
p6.marks.append("path").attr("d", histArea(p6Hist)).attr("fill", "#b94cf6");
p6.marks.append("path").attr("d", histLine(p6Hist)).attr("fill", "none").attr("stroke", PURPLE).attr("stroke-width", 3);

// plot 7
const p7 = makePlot({x0:2259, x1:2911, y0:102, y1:596, yMax:6,
    yTicks:d3.range(31).map((i) => i / 5), yMajor:[0,1,2,3,4,5,6], yMinorLen:13, yLong:24,
    titleX:2354, titleY:94, titleSize:32, titleW:373, tickFont:25, labelSize:30,
    xLabel:"APC-A", xLabelX:2584, xLabelY:671, yLabel:"Count", yLabelX:2209, yLabelY:340,
    xMinor:15, xLong:26, xTickDy:46, yTickDx:-25});
// plot 8
const p8 = makePlot({x0:2252, x1:2902, y0:833, y1:1178, yMax:7,
    yTicks:d3.range(36).map((i) => i / 5), yMajor:[0,1,2,3,4,5,6,7], yMinorLen:13, yLong:24,
    titleX:2346, titleY:828, titleSize:32, titleW:372, tickFont:25, labelSize:30,
    xLabel:"V500-A", xLabelX:2575, xLabelY:1253, yLabel:"Count", yLabelX:2198, yLabelY:997,
    xMinor:15, xLong:26, xTickDy:46, yTickDx:-23});

function rangeGate(p, g, top) {
    const lines = [[g[0], 0, g[0], top], [g[1], 0, g[1], top], [g[0], g[2], g[1], g[2]]];
    p.g.append("g").selectAll("line").data(lines).enter().append("line")
        .attr("x1", (d) => p.px(d[0])).attr("y1", (d) => p.py(d[1]))
        .attr("x2", (d) => p.px(d[2])).attr("y2", (d) => p.py(d[3]))
        .attr("stroke", INK).attr("stroke-width", 3);
}
rangeGate(p7, p7Gate, 6);
rangeGate(p8, p8Gate, 7);
label(p7, "Nkp30+", 2656, 362, 28);
label(p8, "HLA-DR+", 2588, 1019, 27);

// population table
const table = svg.append("g");
table.append("rect").attr("x", 1533).attr("y", 1328).attr("width", 1050).attr("height", 499)
    .attr("fill", "#fff").attr("stroke", INK).attr("stroke-width", 3.5);
table.append("text").attr("x", 1573).attr("y", 1377).attr("font-size", 31).text("Tube:");
table.append("text").attr("x", 1680).attr("y", 1377).attr("font-size", 31).text("Tube_001");

const rowY = d3.scaleBand().domain(d3.range(9)).range([1453.5, 1807.5]);
const colRight = {events: 2284, parent: 2434, total: 2559};
const swatchX = (i) => 1550 + 50 * rowLevel[i];

table.append("text").attr("x", 1556).attr("y", 1442).attr("font-size", 31).text("Population");
[["#Events", 2281], ["%Parent", 2432], ["%Total", 2557]].forEach((h) => {
    table.append("text").attr("x", h[1]).attr("y", 1442).attr("font-size", 31).attr("text-anchor", "end").text(h[0]);
});
table.append("line").attr("x1", 1549).attr("x2", 2565).attr("y1", 1451).attr("y2", 1451).attr("stroke", "#e8e8e8").attr("stroke-width", 2);

table.selectAll(".band").data(d3.range(9).filter((i) => i % 2 === 1)).enter().append("rect")
    .attr("class", "band")
    .attr("x", 1549).attr("width", 1016)
    .attr("y", (i) => rowY(i)).attr("height", rowY.bandwidth())
    .attr("fill", "#eeeeee");

[2290, 2440].forEach((sx) => {
    table.append("line").attr("x1", sx).attr("x2", sx).attr("y1", 1453).attr("y2", 1808).attr("stroke", "#777").attr("stroke-width", 2);
});

// tree connectors
table.selectAll(".link").data(d3.range(1, 9)).enter().append("path")
    .attr("class", "link")
    .attr("d", (i) => {
        const vx = swatchX(rowUp[i]) + 21;
        const cy = rowY(i) + rowY.bandwidth() / 2;
        const top = rowY(rowUp[i]) + rowY.bandwidth() / 2 + 17;
        return `M${vx},${top}V${cy}H${swatchX(i)}`;
    })
    .attr("fill", "none").attr("stroke", "#888").attr("stroke-width", 2).attr("stroke-dasharray", "2 2");

table.selectAll(".swatch").data(d3.range(9)).enter().append("rect")
    .attr("class", "swatch")
    .attr("x", swatchX)
    .attr("y", (i) => rowY(i) + rowY.bandwidth() / 2 - 16.5)
    .attr("width", 32).attr("height", 33)
    .attr("fill", (i) => rowColor[i]).attr("stroke", "#111").attr("stroke-width", 2.5);

table.selectAll(".cross").data([7, 8]).enter().append("path")
    .attr("class", "cross")
    .attr("d", (i) => {
        const l = swatchX(i), t = rowY(i) + rowY.bandwidth() / 2 - 16.5;
        return `M${l},${t}L${l + 32},${t + 33}M${l + 32},${t}L${l},${t + 33}`;
    })
    .attr("stroke", "#111").attr("stroke-width", 1.5);

svg.append("clipPath").attr("id", "nameClip").append("rect")
    .attr("x", 1540).attr("y", 1450).attr("width", 561).attr("height", 370);

const rowFont = 31;
const baseline = (i) => rowY(i) + rowY.bandwidth() / 2 + 11;
table.append("g").attr("clip-path", "url(#nameClip)")
    .selectAll("text").data(d3.range(9)).enter().append("text")
    .attr("x", (i) => swatchX(i) + 45)
    .attr("y", baseline)
    .attr("font-size", rowFont)
    .text((i) => rowNames[i]);

[[rowEvents, colRight.events], [rowParent, colRight.parent], [rowTotal, colRight.total]].forEach((col) => {
    table.append("g").selectAll("text").data(col[0]).enter().append("text")
        .attr("x", col[1])
        .attr("y", (d, i) => baseline(i))
        .attr("font-size", rowFont)
        .attr("text-anchor", "end")
        .text((d) => d);
});
</script>
</body>
</html>
